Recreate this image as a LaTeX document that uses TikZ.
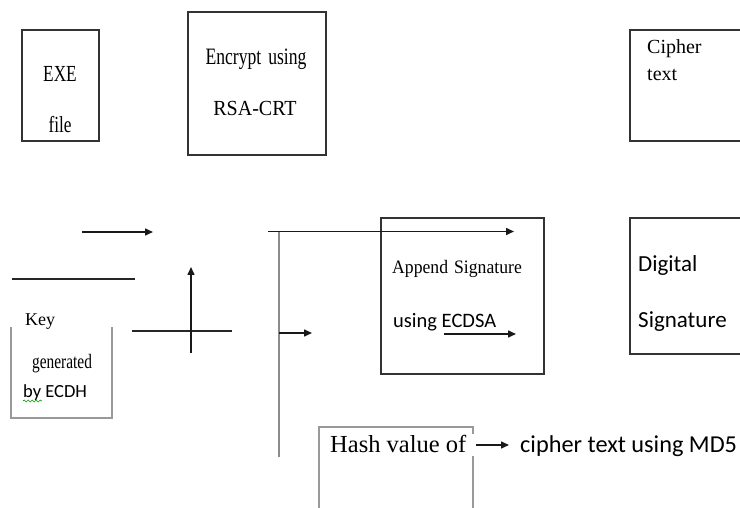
\documentclass[tikz,border=0pt]{standalone}
\usepackage{fontspec}
\setmainfont{Liberation Serif}
\newfontfamily\condserif[FakeStretch=0.75]{Liberation Serif}
\newfontfamily\midserif[FakeStretch=0.93]{Liberation Serif}
\newfontfamily\calib{Carlito}
\usetikzlibrary{arrows.meta,decorations.pathmorphing}
\begin{document}
\begin{tikzpicture}[x=1pt,y=-1pt,
  box/.style={draw=black!80, line width=1.2pt, inner sep=0, fill=none},
  greybox/.style={draw=black!40, line width=1.2pt},
  ln/.style={line width=1.3pt, draw=black!85},
  arr/.style={line width=1.5pt, draw=black!90, -{Triangle[length=8pt,width=7pt]}},
  txt/.style={inner sep=0, anchor=base west},
  ctxt/.style={inner sep=0, anchor=base}]
\useasboundingbox (0,0) rectangle (740,508);
\clip (0,0) rectangle (740,508);
% boxes
\node[box, minimum width=77pt, minimum height=111pt] (exe) at (60.5,85.5) {};
\node[box, minimum width=138pt, minimum height=143pt] (enc) at (257,83.5) {};
\node[box, minimum width=120pt, minimum height=111pt] (cip) at (690,85.5) {};
\node[box, minimum width=163pt, minimum height=156pt] (app) at (462.5,296) {};
\node[box, minimum width=120pt, minimum height=136pt] (dig) at (690,286) {};
% key box (open top)
\coordinate (k1) at (11,327); \coordinate (k2) at (11,418);
\coordinate (k3) at (112,418); \coordinate (k4) at (112,327);
\draw[greybox] (k1) -- (k2) -- (k3) -- (k4);
% hash box (open bottom)
\coordinate (h1) at (319,512); \coordinate (h2) at (319,427);
\coordinate (h3) at (473,427); \coordinate (h4) at (473,434);
\coordinate (h5) at (473,456); \coordinate (h6) at (473,512);
\draw[greybox] (h1) -- (h2) -- (h3) -- (h4);
\draw[greybox] (h5) -- (h6);
% texts
{\condserif
\node[ctxt] (t1) at (60,82) {\fontsize{23}{27}\selectfont EXE};
\node[ctxt] (t2) at (60,133) {\fontsize{23}{27}\selectfont file};
\node[ctxt] (t3) at (256,65) {\fontsize{23.5}{27}\selectfont Encrypt\hspace{7pt}using};
\node[txt] (t6) at (32,368) {\fontsize{20.5}{24}\selectfont generated};
}
\node[txt] (t7) at (392,273) {\midserif\fontsize{19}{22}\selectfont Append\hspace{6pt}Signature};
\node[ctxt] (t4) at (255,116) {\midserif\fontsize{21.5}{25}\selectfont RSA-CRT};
\node[txt] (t5a) at (647,54) {\fontsize{20}{24}\selectfont Cipher};
\node[txt] (t5b) at (647,81) {\fontsize{20}{24}\selectfont text};
\node[txt] (tk) at (25,326) {\fontsize{18}{22}\selectfont Key};
\node[txt] (t8) at (23,397) {\calib\fontsize{18.5}{22}\selectfont by ECDH};
\node[txt] (t9) at (393,327) {\calib\fontsize{20.5}{24}\selectfont using ECDSA};
\node[txt] (t10) at (638,272) {\calib\fontsize{23}{27}\selectfont Digital};
\node[txt] (t11) at (638,327) {\calib\fontsize{23}{27}\selectfont Signature};
\node[txt] (t12) at (330,452) {\fontsize{24.5}{28}\selectfont Hash value of};
\node[txt] (t13) at (520,452) {\calib\fontsize{24.3}{28}\selectfont cipher text using MD5};
% spell-check squiggle
\coordinate (s1) at (23,401); \coordinate (s2) at (42,401);
\draw[green!60!black, line width=0.6pt, decorate, decoration={snake, amplitude=1pt, segment length=4pt}] (s1) -- (s2);
% connectors
\coordinate (a1s) at (82,232); \coordinate (a1e) at (153,232);
\draw[arr] (a1s) -- (a1e);
\coordinate (l1s) at (12,279); \coordinate (l1e) at (135,279);
\draw[ln] (l1s) -- (l1e);
\coordinate (c1s) at (132,331); \coordinate (c1e) at (232,331);
\draw[ln] (c1s) -- (c1e);
\coordinate (c2s) at (191,353); \coordinate (c2e) at (191,267);
\draw[arr] (c2s) -- (c2e);
\coordinate (v1) at (279,232); \coordinate (v2) at (279,457);
\draw[line width=1.3pt, draw=black!45] (v1) -- (v2);
\coordinate (top1) at (268,231.5); \coordinate (top2) at (514,231.5);
\draw[arr] (top1) -- (top2);
\coordinate (m1) at (279,333); \coordinate (m2) at (312,333);
\draw[arr] (m1) -- (m2);
\coordinate (in1) at (444,334); \coordinate (in2) at (516,334);
\draw[arr] (in1) -- (in2);
\coordinate (hs) at (476,445); \coordinate (he) at (509,445);
\draw[arr] (hs) -- (he);
\end{tikzpicture}
\end{document}
